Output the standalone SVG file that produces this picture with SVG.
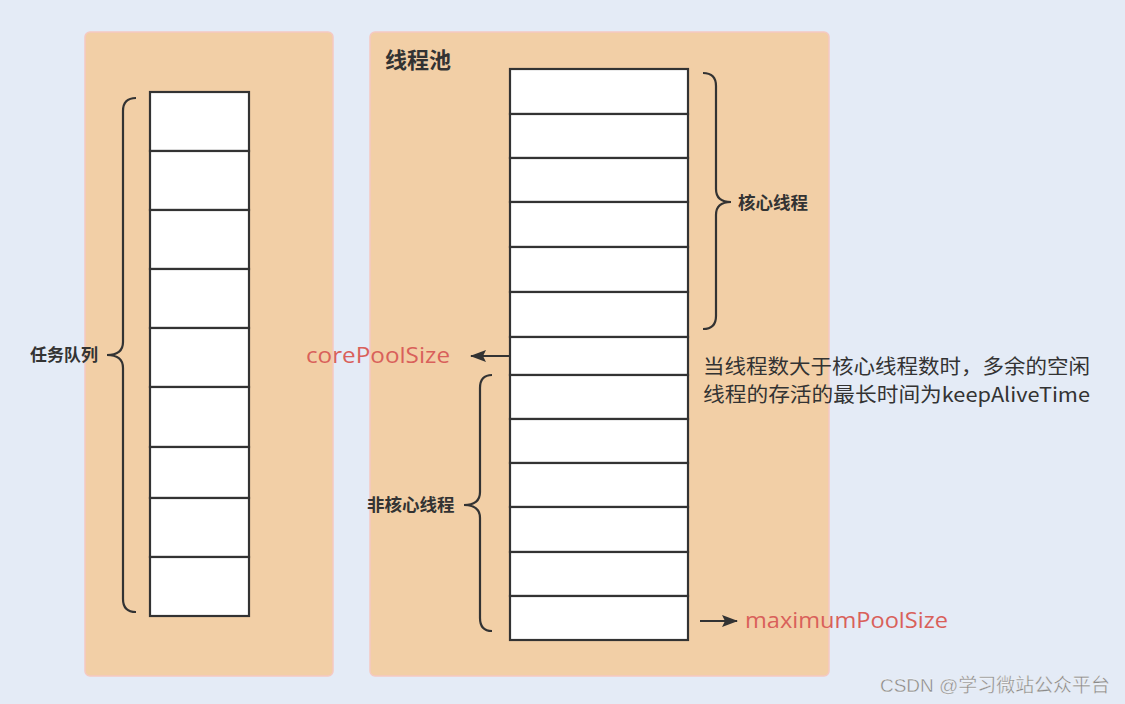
<svg xmlns="http://www.w3.org/2000/svg" width="1125" height="704" viewBox="0 0 1125 704">
<defs>
<style>
.panel{fill:#f2cfa6;stroke:#f5c9c2;stroke-width:1.5}
.cell{fill:#fff;stroke:#333;stroke-width:2.2}
.brace{fill:none;stroke:#333;stroke-width:2.2}
.lbl{font-family:"Noto Sans CJK SC","Noto Sans",sans-serif;font-weight:bold;fill:#333}
.red{font-family:"Open Sans","Noto Sans",sans-serif;fill:#d9605a}
.note{font-family:"Noto Sans CJK SC","Open Sans",sans-serif;fill:#333;font-size:20px}
.conn{stroke:#333;stroke-width:2;fill:none}
</style>
<marker id="ah" viewBox="0 0 16 12" refX="15" refY="6" markerWidth="16" markerHeight="12" markerUnits="userSpaceOnUse" orient="auto">
<path d="M0,0 L16,6 L0,12 L3,6 z" fill="#333"/>
</marker>
</defs>
<rect x="0" y="0" width="1125" height="704" fill="#e4ebf6"/>
<g id="queue-panel">
<rect class="panel" x="85" y="32" width="248" height="644" rx="5"/>
</g>
<g id="pool-panel">
<rect class="panel" x="370" y="32" width="459" height="644" rx="5"/>
<text class="lbl" x="385" y="68" font-size="22">线程池</text>
</g>
<g id="task-queue">
<rect class="cell" x="150" y="92" width="99" height="59"/>
<rect class="cell" x="150" y="151" width="99" height="59"/>
<rect class="cell" x="150" y="210" width="99" height="59"/>
<rect class="cell" x="150" y="269" width="99" height="59"/>
<rect class="cell" x="150" y="328" width="99" height="59"/>
<rect class="cell" x="150" y="387" width="99" height="60"/>
<rect class="cell" x="150" y="447" width="99" height="51"/>
<rect class="cell" x="150" y="498" width="99" height="59"/>
<rect class="cell" x="150" y="557" width="99" height="59"/>
</g>
<g id="queue-brace">
<path class="brace" d="M136,98 Q123,98 123,111 V342 Q123,355 107,355 Q123,355 123,368 V599 Q123,612 136,612"/>
<text class="lbl" x="30" y="361" font-size="17">任务队列</text>
</g>
<g id="thread-stack">
<rect class="cell" x="510" y="69" width="178" height="45"/>
<rect class="cell" x="510" y="114" width="178" height="44"/>
<rect class="cell" x="510" y="158" width="178" height="44"/>
<rect class="cell" x="510" y="202" width="178" height="45"/>
<rect class="cell" x="510" y="247" width="178" height="45"/>
<rect class="cell" x="510" y="292" width="178" height="45"/>
<rect class="cell" x="510" y="337" width="178" height="38"/>
<rect class="cell" x="510" y="375" width="178" height="44"/>
<rect class="cell" x="510" y="419" width="178" height="44"/>
<rect class="cell" x="510" y="463" width="178" height="44"/>
<rect class="cell" x="510" y="507" width="178" height="45"/>
<rect class="cell" x="510" y="552" width="178" height="44"/>
<rect class="cell" x="510" y="596" width="178" height="44"/>
</g>
<g id="core-brace">
<path class="brace" d="M703,73 Q716,73 716,86 V189 Q716,202 731,202 Q716,202 716,215 V316 Q716,329 703,329"/>
<text class="lbl" x="738" y="209" font-size="17.5">核心线程</text>
</g>
<g id="noncore-brace">
<path class="brace" d="M492,375 Q480,375 480,388 V492 Q480,505 464,505 Q480,505 480,518 V618 Q480,631 492,631"/>
<text class="lbl" x="367" y="511" font-size="17.5">非核心线程</text>
</g>
<g id="connectors">
<line class="conn" x1="510" y1="356" x2="471" y2="356" marker-end="url(#ah)"/>
<line class="conn" x1="700" y1="621" x2="737" y2="621" marker-end="url(#ah)"/>
</g>
<g id="labels">
<text class="red" x="306" y="363" font-size="21" textLength="144" lengthAdjust="spacingAndGlyphs">corePoolSize</text>
<text class="red" x="745" y="628" font-size="21" textLength="203" lengthAdjust="spacingAndGlyphs">maximumPoolSize</text>
<text class="note" x="703" y="374" textLength="387" lengthAdjust="spacingAndGlyphs">当线程数大于核心线程数时，多余的空闲</text>
<text class="note" x="703" y="402" textLength="387" lengthAdjust="spacingAndGlyphs">线程的存活的最长时间为keepAliveTime</text>
</g>
<g id="watermark">
<text x="880" y="692" font-family="'Liberation Sans','Noto Sans CJK SC',sans-serif" font-size="19" fill="#8a8a8a" stroke="#fff" stroke-width="0.3" textLength="230" lengthAdjust="spacingAndGlyphs">CSDN @学习微站公众平台</text>
</g>
</svg>
